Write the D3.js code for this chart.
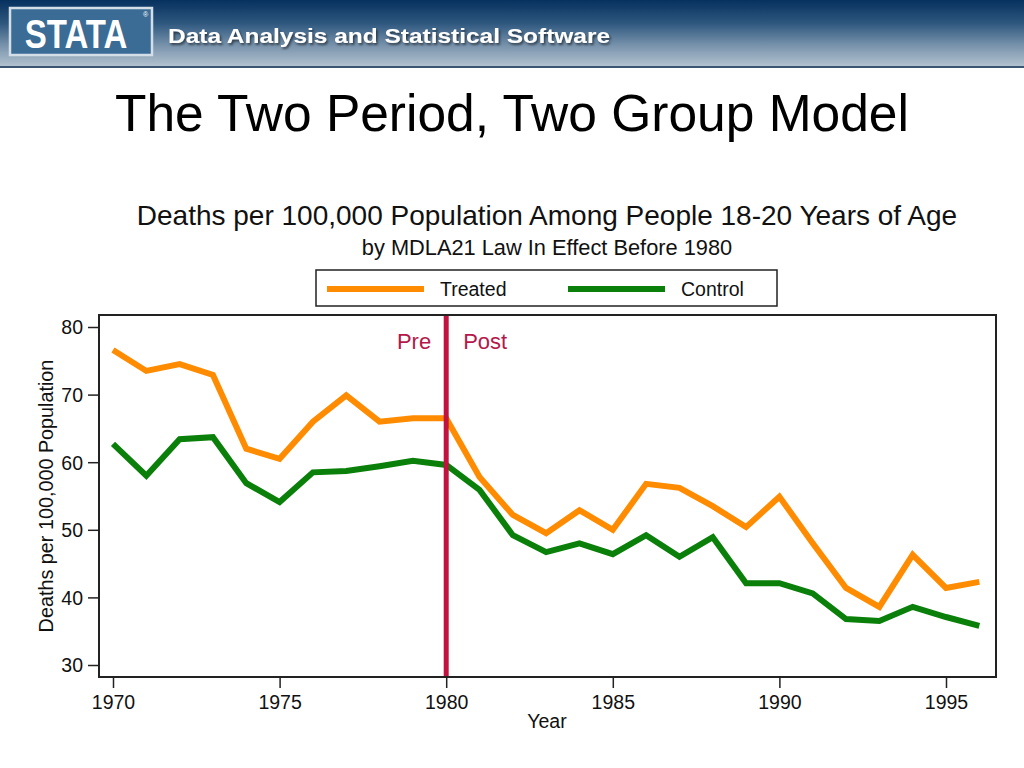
<!DOCTYPE html>
<html><head><meta charset="utf-8">
<script src="https://cdn.jsdelivr.net/npm/d3@7"></script>
<style>body{margin:0;background:#fff;}svg{display:block;font-family:"Liberation Sans",Arial,sans-serif;}</style>
</head><body>
<script>
const years = d3.range(1970, 1997);
const treated = [76.6,73.5,74.5,72.9,62.0,60.5,66.0,69.9,66.0,66.5,66.5,57.8,52.2,49.5,52.9,50.0,56.8,56.2,53.5,50.4,54.9,48.0,41.4,38.6,46.3,41.4,42.3];
const control = [62.7,58.0,63.4,63.7,56.9,54.1,58.5,58.7,59.4,60.2,59.6,55.9,49.2,46.7,48.0,46.4,49.2,46.0,48.9,42.1,42.1,40.6,36.8,36.5,38.6,37.1,35.8];
const xTicks = [1970,1975,1980,1985,1990,1995];
const yTicks = [30,40,50,60,70,80];
const seriesNames = ["Treated","Control"];
const seriesColors = ["#ff8c00","#0a800a"];
const policyYear = 1980;

const W=1024,H=768;
const svg=d3.select("body").append("svg").attr("width",W).attr("height",H);
const defs=svg.append("defs");
const g1=defs.append("linearGradient").attr("id","hdr").attr("x1",0).attr("y1",0).attr("x2",0).attr("y2",1);
g1.append("stop").attr("offset","0%").attr("stop-color","#06305e");
g1.append("stop").attr("offset","35%").attr("stop-color","#2f587f");
g1.append("stop").attr("offset","70%").attr("stop-color","#7c96ae");
g1.append("stop").attr("offset","100%").attr("stop-color","#b4c3d0");
const f=defs.append("filter").attr("id","sh").attr("x","-5%").attr("y","-20%").attr("width","110%").attr("height","150%");
f.append("feDropShadow").attr("dx",1.5).attr("dy",2).attr("stdDeviation",1.2).attr("flood-color","#000").attr("flood-opacity",0.55);

// header banner
svg.append("rect").attr("x",0).attr("y",0).attr("width",W).attr("height",67).attr("fill","url(#hdr)");
svg.append("rect").attr("x",0).attr("y",66).attr("width",W).attr("height",2).attr("fill","#3c5670");
svg.append("rect").attr("x",10).attr("y",8).attr("width",142).attr("height",47).attr("fill","#3b6c96").attr("stroke","#d4dee8").attr("stroke-width",2.5);
svg.append("text").attr("transform","translate(76,48) scale(1,1.25)").attr("text-anchor","middle").attr("fill","#fff")
  .attr("font-size",33).attr("font-weight","bold").text("STATA");
svg.append("text").attr("x",143).attr("y",17).attr("fill","#fff").attr("font-size",7).text("®");
svg.append("text").attr("x",168).attr("y",43).attr("fill","#fff").attr("font-size",20).attr("font-weight","bold")
  .attr("filter","url(#sh)").attr("textLength",442).attr("lengthAdjust","spacingAndGlyphs").text("Data Analysis and Statistical Software");

// slide title
svg.append("text").attr("x",115).attr("y",131).attr("font-size",51.5).attr("fill","#000").text("The Two Period, Two Group Model");

// chart titles
svg.append("text").attr("x",547).attr("y",225).attr("text-anchor","middle").attr("font-size",28).attr("fill","#111").text("Deaths per 100,000 Population Among People 18-20 Years of Age");
svg.append("text").attr("x",547).attr("y",255).attr("text-anchor","middle").attr("font-size",21.8).attr("fill","#111").text("by MDLA21 Law In Effect Before 1980");

// legend
svg.append("rect").attr("x",316).attr("y",270).attr("width",461).attr("height",36).attr("fill","#fff").attr("stroke","#222").attr("stroke-width",1.5);
const legX=[327,568];
seriesNames.forEach((n,i)=>{
  svg.append("line").attr("x1",legX[i]).attr("x2",legX[i]+97).attr("y1",289).attr("y2",289).attr("stroke",seriesColors[i]).attr("stroke-width",6);
  svg.append("text").attr("x",legX[i]+113).attr("y",296).attr("font-size",19.5).attr("fill","#111").text(n);
});

// plot
const x=d3.scaleLinear().domain([1970,1995]).range([113,946]);
const y=d3.scaleLinear().domain([30,80]).range([665,327]);
const L=99,R=996,T=315,B=677;

const clip=defs.append("clipPath").attr("id","pc");
clip.append("rect").attr("x",L).attr("y",T).attr("width",R-L).attr("height",B-T);

svg.append("rect").attr("x",L).attr("y",T).attr("width",R-L).attr("height",B-T).attr("fill","#fff");

const line=d3.line().x((d,i)=>x(years[i])).y(d=>y(d));
const pg=svg.append("g").attr("clip-path","url(#pc)");
[control,treated].forEach((s,k)=>{
  const i = k===0?1:0;
  pg.append("path").datum(s).attr("d",line).attr("fill","none").attr("stroke",seriesColors[i]).attr("stroke-width",6).attr("stroke-linejoin","miter");
});
pg.append("line").attr("x1",x(policyYear)).attr("x2",x(policyYear)).attr("y1",T).attr("y2",B).attr("stroke","#c2123f").attr("stroke-width",5);

svg.append("text").attr("x",x(policyYear)-15).attr("y",349).attr("text-anchor","end").attr("font-size",22).attr("fill","#b5174b").text("Pre");
svg.append("text").attr("x",x(policyYear)+17).attr("y",349).attr("font-size",22).attr("fill","#b5174b").text("Post");

svg.append("rect").attr("x",L).attr("y",T).attr("width",R-L).attr("height",B-T).attr("fill","none").attr("stroke","#222").attr("stroke-width",2);

// axes
const xa=svg.append("g").attr("transform",`translate(0,${B})`).call(d3.axisBottom(x).tickValues(xTicks).tickFormat(d3.format("d")).tickSize(11).tickPadding(5));
const ya=svg.append("g").attr("transform",`translate(${L},0)`).call(d3.axisLeft(y).tickValues(yTicks).tickSize(11).tickPadding(5));
[xa,ya].forEach(a=>{
  a.select(".domain").remove();
  a.selectAll(".tick line").attr("stroke","#222").attr("stroke-width",1.5);
  a.selectAll("text").attr("font-size",19.5).attr("fill","#111").attr("font-family","Liberation Sans, Arial, sans-serif");
});
xa.selectAll("text").attr("dy","0.8em");
ya.selectAll("text").attr("dy","0.35em");

svg.append("text").attr("x",547).attr("y",728).attr("text-anchor","middle").attr("font-size",19.5).attr("fill","#111").text("Year");
svg.append("text").attr("transform","translate(53,496) rotate(-90)").attr("text-anchor","middle").attr("font-size",19.8).attr("fill","#111").text("Deaths per 100,000 Population");
</script>
</body></html>
